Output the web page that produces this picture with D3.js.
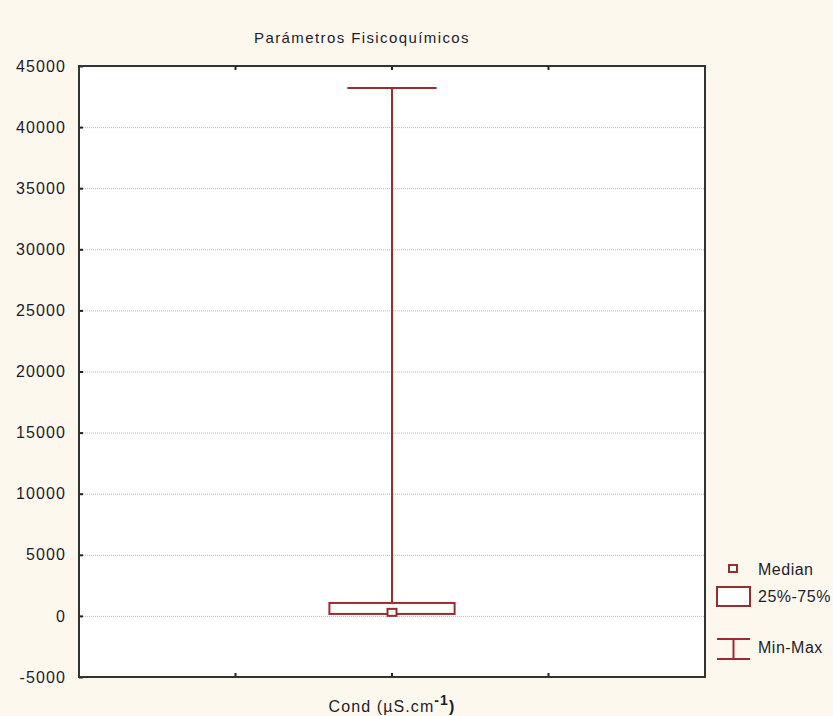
<!DOCTYPE html>
<html>
<head>
<meta charset="utf-8">
<script src="https://cdn.jsdelivr.net/npm/d3@7"></script>
<style>
body { margin: 0; background: #fdf8ee; }
text { font-family: "Liberation Sans", Arial, sans-serif; fill: #1c1c2c; }
</style>
</head>
<body>
<svg id="mainSvg" width="833" height="716"></svg>
<script>
// values
var categories = ["Cond"];
var minVals = [100];
var q1Vals = [160];
var medianVals = [290];
var q3Vals = [1060];
var maxVals = [43200];
var yTicks = [-5000, 0, 5000, 10000, 15000, 20000, 25000, 30000, 35000, 40000, 45000];
var legendLabels = ["Median", "25%-75%", "Min-Max"];

var plot = {left: 79, top: 66, right: 705, bottom: 677};
var red = "#9b2b2e";

var svg = d3.select("#mainSvg");
svg.append("rect").attr("width", 833).attr("height", 716).attr("fill", "#fdf8ee");
svg.append("rect").attr("x", plot.left).attr("y", plot.top)
	.attr("width", plot.right - plot.left).attr("height", plot.bottom - plot.top)
	.attr("fill", "#fff");

var y = d3.scaleLinear().domain([-5000, 45000]).range([plot.bottom, plot.top]);
var x = d3.scaleBand().domain(categories).range([plot.left, plot.right]).paddingInner(0).paddingOuter(0.5);
var bw = x.bandwidth();

// grid
svg.append("g").selectAll("line").data(yTicks.filter(function(d) { return d > -5000 && d < 45000; }))
	.enter().append("line")
	.attr("x1", plot.left).attr("x2", plot.right)
	.attr("y1", function(d) { return y(d) + 0.5; }).attr("y2", function(d) { return y(d) + 0.5; })
	.attr("stroke", "#b8b8b8").attr("stroke-width", 1).attr("stroke-dasharray", "1,1");

// y axis labels
var yAxis = d3.axisLeft(y).tickValues(yTicks).tickSize(-4).tickPadding(13)
	.tickFormat(function(d) { return d < 0 ? "-" + Math.abs(d) : String(d); });
var gy = svg.append("g").attr("transform", "translate(" + plot.left + ",0)").call(yAxis);
gy.select(".domain").remove();
gy.selectAll(".tick line").attr("stroke", "#222").attr("stroke-width", 2);
gy.selectAll(".tick text").attr("font-size", 16).attr("letter-spacing", 1.1)
	.style("font-family", "'Liberation Sans', Arial, sans-serif").attr("fill", "#1c1c2c");

// x ticks (top and bottom, pointing inward)
var xTickPos = [];
categories.forEach(function(c) { xTickPos.push(x(c), x(c) + bw / 2, x(c) + bw); });
svg.append("g").selectAll("line").data(xTickPos).enter().append("line")
	.attr("x1", function(d) { return d; }).attr("x2", function(d) { return d; })
	.attr("y1", plot.top).attr("y2", plot.top + 4).attr("stroke", "#222").attr("stroke-width", 2);
svg.append("g").selectAll("line").data(xTickPos).enter().append("line")
	.attr("x1", function(d) { return d; }).attr("x2", function(d) { return d; })
	.attr("y1", plot.bottom).attr("y2", plot.bottom - 4).attr("stroke", "#222").attr("stroke-width", 2);

// boxes
var g = svg.append("g");
categories.forEach(function(c, i) {
	var cx = x(c) + bw / 2;
	var boxW = bw * 0.4, capW = bw * 0.285;
	g.append("line").attr("x1", cx).attr("x2", cx).attr("y1", y(maxVals[i])).attr("y2", y(q3Vals[i]))
		.attr("stroke", red).attr("stroke-width", 2);
	g.append("line").attr("x1", cx).attr("x2", cx).attr("y1", y(q1Vals[i])).attr("y2", y(minVals[i]))
		.attr("stroke", red).attr("stroke-width", 2);
	g.append("line").attr("x1", cx - capW / 2).attr("x2", cx + capW / 2)
		.attr("y1", y(maxVals[i])).attr("y2", y(maxVals[i])).attr("stroke", red).attr("stroke-width", 2);
	g.append("rect").attr("x", cx - boxW / 2).attr("y", y(q3Vals[i]))
		.attr("width", boxW).attr("height", y(q1Vals[i]) - y(q3Vals[i]))
		.attr("fill", "#fff").attr("stroke", red).attr("stroke-width", 2);
	g.append("rect").attr("x", cx - 4.5).attr("y", y(medianVals[i]) - 3.5)
		.attr("width", 9).attr("height", 7)
		.attr("fill", "#fff").attr("stroke", red).attr("stroke-width", 2);
});

// frame
svg.append("rect").attr("x", plot.left).attr("y", plot.top)
	.attr("width", plot.right - plot.left).attr("height", plot.bottom - plot.top)
	.attr("fill", "none").attr("stroke", "#333").attr("stroke-width", 2);

// title
svg.append("text").attr("x", 362).attr("y", 43).attr("text-anchor", "middle")
	.attr("font-size", 15).attr("letter-spacing", 1.4).text("Parámetros Fisicoquímicos");

// x label
categories.forEach(function(c) {
	var t = svg.append("text").attr("x", x(c) + bw / 2).attr("y", 712).attr("text-anchor", "middle")
		.attr("font-size", 16).attr("letter-spacing", 1.1);
	t.append("tspan").text(c + " (µS.cm");
	t.append("tspan").attr("dy", -7).attr("font-size", 14).attr("font-weight", "bold").text("-1");
	t.append("tspan").attr("dy", 7).attr("font-weight", "bold").text(")");
});

// legend
var lg = svg.append("g").attr("transform", "translate(717,0)");
lg.append("rect").attr("x", 12).attr("y", 565).attr("width", 8).attr("height", 7)
	.attr("fill", "#fff").attr("stroke", red).attr("stroke-width", 2);
lg.append("rect").attr("x", 0).attr("y", 587).attr("width", 33).attr("height", 19)
	.attr("fill", "#fff").attr("stroke", red).attr("stroke-width", 2);
lg.append("line").attr("x1", 0).attr("x2", 33).attr("y1", 639).attr("y2", 639).attr("stroke", red).attr("stroke-width", 2);
lg.append("line").attr("x1", 0).attr("x2", 33).attr("y1", 659).attr("y2", 659).attr("stroke", red).attr("stroke-width", 2);
lg.append("line").attr("x1", 16.5).attr("x2", 16.5).attr("y1", 639).attr("y2", 659).attr("stroke", red).attr("stroke-width", 2);
lg.selectAll("text.lbl").data(legendLabels).enter().append("text").attr("class", "lbl")
	.attr("x", 41).attr("y", function(d, i) { return [575, 602, 653][i]; })
	.attr("font-size", 16).attr("letter-spacing", 0.5).text(function(d) { return d; });
</script>
</body>
</html>
